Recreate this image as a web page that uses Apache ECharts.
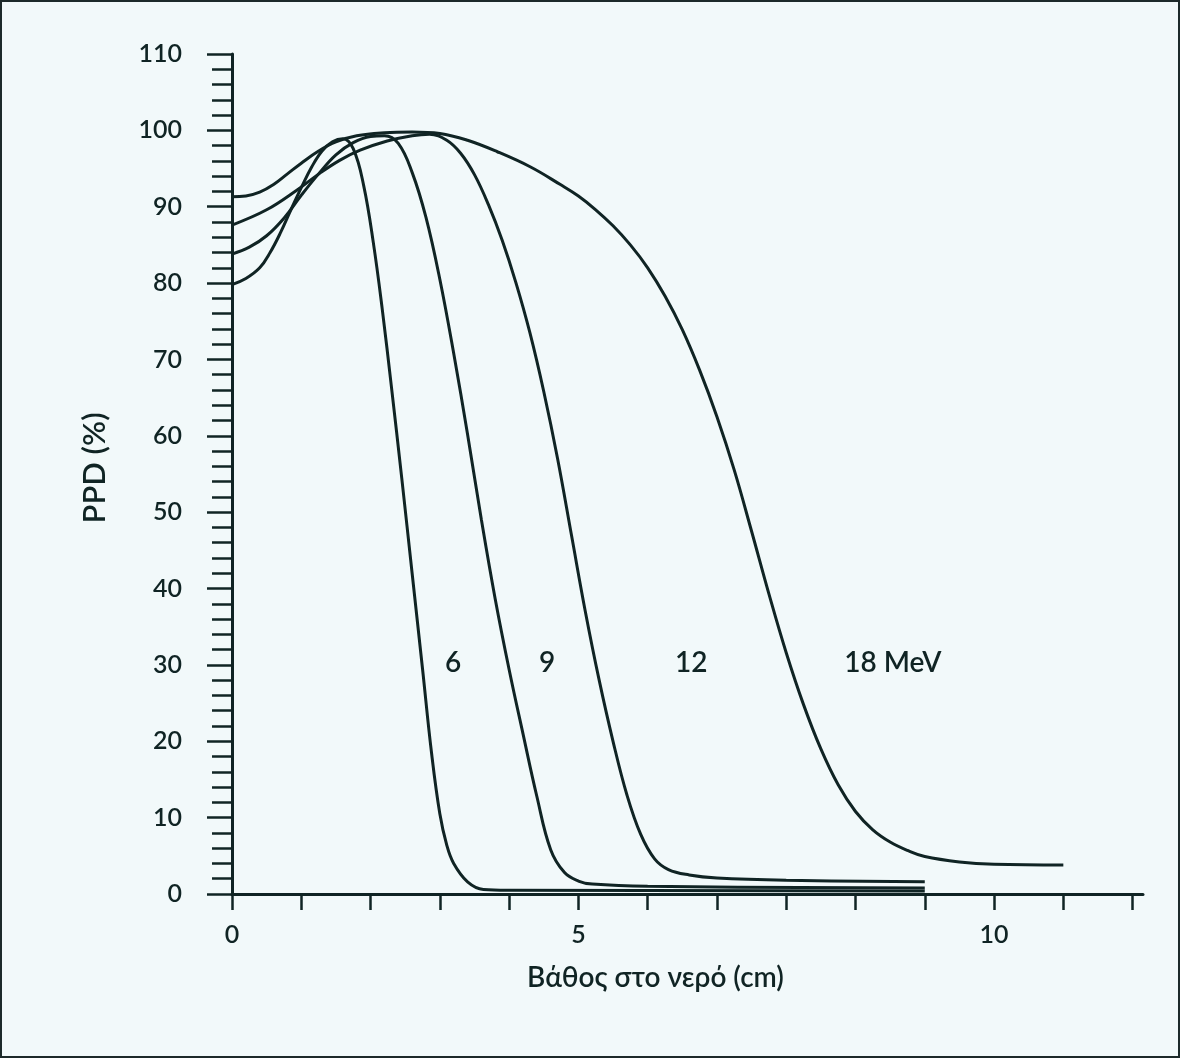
<!DOCTYPE html>
<html>
<head>
<meta charset="utf-8">
<title>PPD</title>
<script src="https://cdn.jsdelivr.net/npm/echarts@6/dist/echarts.min.js"></script>
<style>
  html, body { margin: 0; padding: 0; background: #f2f9fa; }
  #wrap { position: relative; width: 1180px; height: 1058px; }
  #chart { width: 1180px; height: 1058px; }
  #frame { position: absolute; left: 0; top: 0; right: 0; bottom: 0; border: 2px solid #1d2a2a; pointer-events: none; }
</style>
</head>
<body>
<div id="wrap">
  <div id="chart"></div>
  <div id="frame"></div>
</div>
<script>
// depth (cm) / PPD (%) per beam energy
const depth6 = [0, 0.2, 0.4, 0.55, 0.7, 0.85, 1.0, 1.15, 1.3, 1.45, 1.6, 1.75, 1.9, 2.04, 2.17, 2.3, 2.45, 2.6, 2.75, 2.88, 3.0, 3.1, 3.2, 3.4, 3.63, 4.0, 10.0];
const ppd6 = [79.8, 80.6, 82.0, 84.0, 86.6, 89.6, 92.5, 95.2, 97.3, 98.5, 98.9, 97.6, 92.8, 85.3, 76.5, 66.5, 54.5, 42.0, 29.5, 18.5, 10.5, 6.4, 4.0, 1.6, 0.6, 0.5, 0.4];

const depth9 = [0, 0.25, 0.5, 0.75, 1.0, 1.25, 1.5, 1.75, 2.0, 2.2, 2.4, 2.6, 2.8, 3.0, 3.2, 3.4, 3.6, 3.8, 4.0, 4.2, 4.4, 4.6, 4.8, 5.0, 5.2, 6.0, 10.0];
const ppd9 = [83.8, 84.7, 86.2, 88.5, 91.5, 94.3, 96.8, 98.4, 99.2, 99.3, 98.3, 94.5, 88.6, 80.5, 70.8, 60.2, 49.0, 38.6, 29.4, 21.0, 12.8, 5.8, 2.8, 1.7, 1.3, 1.0, 0.8];

const depth12 = [0, 0.5, 0.94, 1.27, 1.56, 1.85, 2.24, 2.6, 2.85, 3.1, 3.3, 3.5, 3.7, 3.9, 4.1, 4.3, 4.5, 4.7, 4.9, 5.1, 5.3, 5.5, 5.7, 5.9, 6.1, 6.3, 6.6, 7.0, 8.0, 10.0];
const ppd12 = [87.6, 89.6, 92.2, 94.4, 96.1, 97.4, 98.6, 99.3, 99.5, 98.7, 97.0, 94.2, 90.3, 85.6, 80.0, 73.5, 65.8, 57.0, 47.0, 37.0, 28.0, 20.0, 13.0, 7.8, 4.6, 3.2, 2.5, 2.1, 1.8, 1.6];

const depth18 = [0, 0.2, 0.4, 0.6, 0.8, 1.0, 1.25, 1.5, 1.8, 2.2, 2.6, 3.0, 3.4, 3.83, 4.31, 4.74, 5.0, 5.25, 5.5, 5.75, 6.0, 6.25, 6.5, 6.75, 7.0, 7.25, 7.5, 7.75, 8.0, 8.25, 8.5, 8.75, 9.0, 9.25, 9.5, 9.75, 10.0, 10.5, 11.0, 12.0];
const ppd18 = [91.3, 91.4, 91.9, 92.9, 94.3, 95.7, 97.3, 98.5, 99.3, 99.7, 99.8, 99.6, 98.7, 97.2, 95.2, 92.9, 91.4, 89.6, 87.5, 85.0, 82.0, 78.3, 73.9, 68.6, 62.5, 55.5, 47.5, 39.3, 31.6, 24.8, 19.0, 14.3, 10.8, 8.4, 6.8, 5.7, 4.9, 4.2, 3.9, 3.8];

// curve names and where they are written
const curveNames = ['6', '9', '12', '18 MeV'];
const nameDepth = [3.19, 4.55, 6.63, 9.54];
const namePpd = [30.3, 30.3, 30.3, 30.3];

// x axis ticks and the labels printed under them
const xTicks = [0, 1, 2, 3, 4, 5, 6, 7, 8, 9, 10, 11, 12, 13];
const xTickLabels = ['0', '', '', '', '', '5', '', '', '', '', '', '10', '', ''];

const ink = '#102424';
const font = 'Lato, "Noto Sans", sans-serif';
const weight = 600;

const pairs = (xs, ys) => xs.map((x, i) => [x, ys[i]]);

const curves = [
  pairs(depth6, ppd6),
  pairs(depth9, ppd9),
  pairs(depth12, ppd12),
  pairs(depth18, ppd18),
];

const chart = echarts.init(document.getElementById('chart'));
chart.setOption({
  backgroundColor: 'transparent',
  animation: false,
  grid: {
    left: 232,
    right: 37,
    top: 54,
    bottom: 164,
  },
  xAxis: {
    type: 'value',
    min: 0,
    max: 13.15,
    name: 'Βάθος στο νερό (cm)',
    nameLocation: 'middle',
    nameGap: 70,
    nameTextStyle: {
      color: ink,
      fontFamily: font,
      fontWeight: weight,
      fontSize: 28,
      padding: [0, 64, 0, 0],
    },
    axisLine: { show: true, lineStyle: { color: ink, width: 3 } },
    axisTick: {
      show: true,
      inside: false,
      length: 16,
      customValues: xTicks,
      lineStyle: { color: ink, width: 2.5 },
    },
    axisLabel: {
      customValues: xTicks.filter((t, i) => xTickLabels[i] !== ''),
      formatter: (v) => xTickLabels[xTicks.indexOf(Math.round(v))],
      color: ink,
      fontFamily: font,
      fontWeight: weight,
      fontSize: 25,
      margin: 28,
    },
    splitLine: { show: false },
  },
  yAxis: {
    type: 'value',
    min: 0,
    max: 110,
    interval: 10,
    name: 'PPD (%)',
    nameLocation: 'middle',
    nameGap: 122,
    nameTextStyle: {
      color: ink,
      fontFamily: font,
      fontWeight: weight,
      fontSize: 31,
      padding: [0, 0, 0, 12],
    },
    axisLine: { show: true, lineStyle: { color: ink, width: 3 } },
    axisTick: {
      show: true,
      inside: false,
      length: 25,
      lineStyle: { color: ink, width: 2.5 },
    },
    minorTick: {
      show: true,
      splitNumber: 5,
      length: 20,
      lineStyle: { color: ink, width: 2.5 },
    },
    axisLabel: {
      color: ink,
      fontFamily: font,
      fontWeight: weight,
      fontSize: 25,
      margin: 50,
    },
    splitLine: { show: false },
    minorSplitLine: { show: false },
  },
  series: [
    ...curves.map((data, i) => ({
      name: curveNames[i],
      type: 'line',
      data: data,
      showSymbol: false,
      smooth: 0.4,
      lineStyle: { color: ink, width: 3 },
      z: 3,
    })),
    {
      type: 'scatter',
      data: curveNames.map((n, i) => ({ value: [nameDepth[i], namePpd[i]], name: n })),
      symbolSize: 1,
      itemStyle: { color: 'transparent', opacity: 1 },
      label: {
        show: true,
        position: 'inside',
        formatter: (p) => p.name,
        color: ink,
        opacity: 1,
        fontFamily: font,
        fontWeight: weight,
        fontSize: 28,
      },
      silent: true,
    },
  ],
});
</script>
</body>
</html>
